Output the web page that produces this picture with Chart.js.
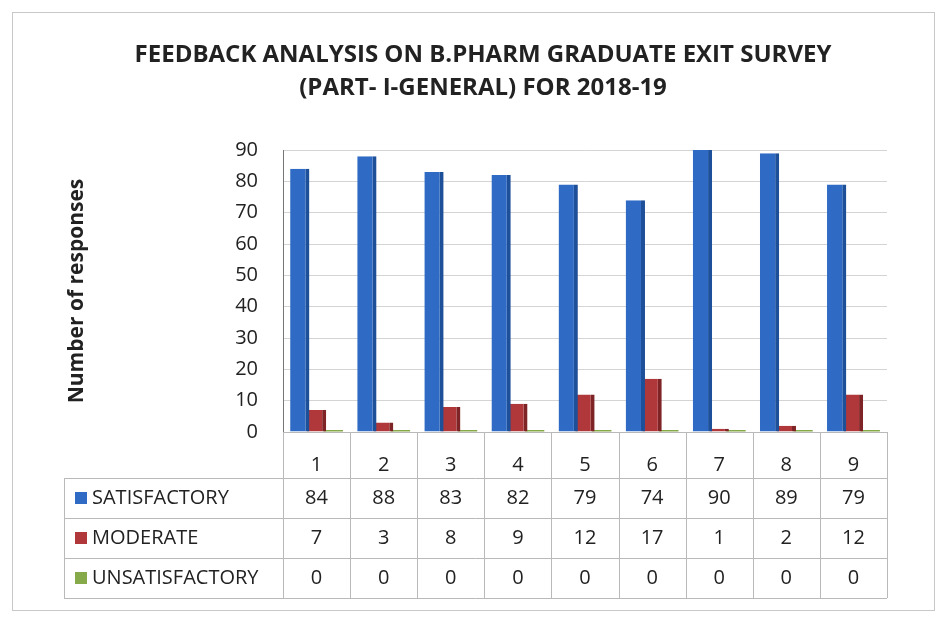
<!DOCTYPE html>
<html lang="en">
<head>
<meta charset="UTF-8">
<title>Feedback analysis B.Pharm exit survey</title>
<script src="https://cdn.jsdelivr.net/npm/chart.js"></script>
<style>
  body { margin: 0; background: #fff; }
  .wrap { position: relative; width: 945px; height: 620px; }
</style>
</head>
<body>
<div class="wrap">
  <canvas id="grafico" width="945" height="620"></canvas>
</div>
<script>
  // data
  const categorias = ['1', '2', '3', '4', '5', '6', '7', '8', '9'];
  const satisfactory = [84, 88, 83, 82, 79, 74, 90, 89, 79];
  const moderate = [7, 3, 8, 9, 12, 17, 1, 2, 12];
  const unsatisfactory = [0, 0, 0, 0, 0, 0, 0, 0, 0];
  const nomes = ['SATISFACTORY', 'MODERATE', 'UNSATISFACTORY'];
  const cores = ['#2f6bc4', '#b0383a', '#86a94a'];
  const yTicks = [0, 10, 20, 30, 40, 50, 60, 70, 80, 90];
  const titulo = ['FEEDBACK ANALYSIS ON B.PHARM GRADUATE EXIT SURVEY', '(PART- I-GENERAL) FOR 2018-19'];

  const fonte = "'Open Sans', 'Noto Sans', sans-serif";

  // title + table under the plot, columns follow the x scale
  const tabela = {
    id: 'tabela',
    afterDraw(chart) {
      const ctx = chart.ctx;
      const x = chart.scales.x;
      const area = chart.chartArea;
      const w = (area.right - area.left) / categorias.length;
      const topo = area.bottom;
      const linhas = [topo + 46, topo + 86, topo + 126, topo + 166];
      const esq = 64;
      ctx.save();

      // title
      ctx.fillStyle = '#222';
      ctx.font = 'bold 24px ' + fonte;
      ctx.textAlign = 'center';
      ctx.textBaseline = 'middle';
      ctx.fillText(titulo[0], 483, 55);
      ctx.fillText(titulo[1], 483, 88);

      ctx.strokeStyle = '#b9b9b9';
      ctx.lineWidth = 1;
      ctx.beginPath();
      // vertical lines
      for (let i = 0; i <= categorias.length; i++) {
        const px = Math.round(area.left + i * w) + 0.5;
        ctx.moveTo(px, topo);
        ctx.lineTo(px, linhas[3]);
      }
      ctx.moveTo(esq + 0.5, linhas[0]);
      ctx.lineTo(esq + 0.5, linhas[3]);
      // horizontal lines
      ctx.moveTo(area.left, topo + 0.5);
      ctx.lineTo(area.right, topo + 0.5);
      linhas.forEach(y => {
        ctx.moveTo(esq, y + 0.5);
        ctx.lineTo(area.right, y + 0.5);
      });
      ctx.stroke();

      ctx.fillStyle = '#222';
      ctx.font = '20px ' + fonte;
      categorias.forEach((c, i) => {
        ctx.fillText(c, x.getPixelForValue(i), topo + 33);
      });
      const series = [satisfactory, moderate, unsatisfactory];
      series.forEach((s, r) => {
        const yc = (linhas[r] + linhas[r + 1]) / 2;
        s.forEach((v, i) => {
          ctx.fillText(String(v), x.getPixelForValue(i), yc);
        });
      });
      ctx.textAlign = 'left';
      ctx.font = '20px ' + fonte;
      nomes.forEach((n, r) => {
        const yc = (linhas[r] + linhas[r + 1]) / 2;
        ctx.fillStyle = cores[r];
        ctx.fillRect(75, yc - 6, 12, 12);
        ctx.fillStyle = '#222';
        ctx.fillText(n, 92, yc);
      });

      // outer frame
      ctx.strokeStyle = '#c8c8c8';
      ctx.strokeRect(12.5, 12.5, 922, 598);
      ctx.restore();
    }
  };

  new Chart(document.getElementById('grafico'), {
    type: 'bar',
    data: {
      labels: categorias,
      datasets: [
        { label: nomes[0], data: satisfactory, backgroundColor: cores[0], borderColor: '#1e4f99', borderWidth: { right: 4 } },
        { label: nomes[1], data: moderate, backgroundColor: cores[1], borderColor: '#7e2426', borderWidth: { right: 4 } },
        { label: nomes[2], data: unsatisfactory, backgroundColor: cores[2], minBarLength: 2 }
      ]
    },
    options: {
      responsive: false,
      animation: false,
      layout: { padding: { left: 0, right: 58, top: 150, bottom: 166 } },
      datasets: { bar: { categoryPercentage: 0.75, barPercentage: 1.15, borderSkipped: false } },
      scales: {
        x: {
          ticks: { display: false },
          grid: { display: false },
          border: { display: false },
          afterFit(scale) { scale.height = 22; }
        },
        y: {
          min: 0,
          max: 90,
          afterBuildTicks(scale) { scale.ticks = yTicks.map(v => ({ value: v })); },
          afterFit(scale) { scale.width = 283; },
          ticks: { color: '#222', padding: 25, font: { size: 20, family: fonte } },
          grid: { color: '#d4d4d4', drawTicks: false },
          border: { display: true, color: '#777' },
          title: {
            display: true,
            text: 'Number of responses',
            color: '#222',
            padding: { top: 64, bottom: 0 },
            font: { size: 21, weight: 'bold', family: fonte }
          }
        }
      },
      plugins: {
        legend: { display: false },
        tooltip: { enabled: false },
        title: { display: false }
      }
    },
    plugins: [tabela]
  });
</script>
</body>
</html>
